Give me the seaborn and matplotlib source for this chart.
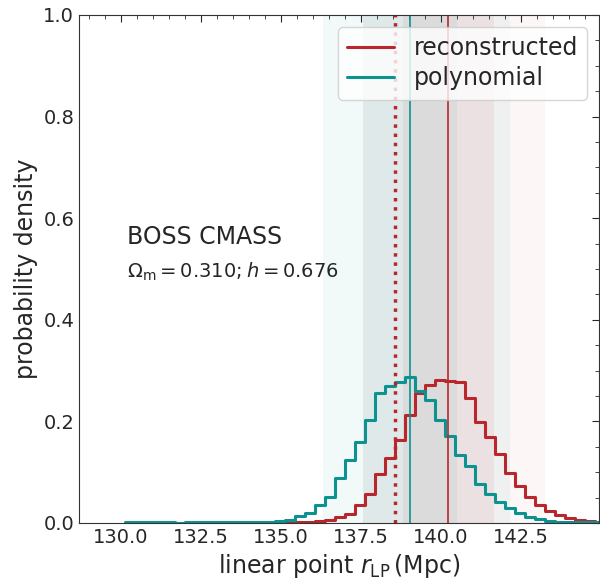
import numpy as np
import pandas as pd
import seaborn as sns
import matplotlib.pyplot as plt
from matplotlib.ticker import MultipleLocator

# histogram bins (Mpc)
bin_start = 130.15
bin_width = 0.3125

# probability density per bin
reconstructed = [
    0.0, 0.0, 0.0, 0.0, 0.0, 0.0, 0.0, 0.0,
    0.0, 0.0, 0.0, 0.0, 0.0, 0.0, 0.0, 0.0,
    0.001, 0.002, 0.002, 0.003, 0.005, 0.012, 0.018, 0.035,
    0.058, 0.097, 0.127, 0.163, 0.212, 0.255, 0.272, 0.281,
    0.279, 0.277, 0.247, 0.198, 0.170, 0.135, 0.099, 0.073,
    0.051, 0.035, 0.023, 0.016, 0.010, 0.005, 0.004, 0.002,
]
polynomial = [
    0.002, 0.002, 0.002, 0.001, 0.002, 0.0, 0.001, 0.001,
    0.001, 0.002, 0.001, 0.002, 0.002, 0.002, 0.002, 0.003,
    0.006, 0.013, 0.020, 0.036, 0.052, 0.088, 0.124, 0.160,
    0.203, 0.255, 0.270, 0.278, 0.287, 0.260, 0.242, 0.203,
    0.171, 0.134, 0.112, 0.077, 0.058, 0.042, 0.029, 0.019,
    0.012, 0.007, 0.003, 0.002, 0.001, 0.001, 0.001, 0.001,
]

# summary values
rec_best = 140.23
poly_best = 139.03
fiducial = 138.58
rec_1sig = (138.83, 141.67)
rec_2sig = (137.59, 143.27)
poly_1sig = (137.59, 140.51)
poly_2sig = (136.31, 142.17)

red = "#b9262c"
teal = "#0c9290"

sns.set_style("white")
plt.rcParams["font.family"] = ["DejaVu Sans"]

nbins = len(polynomial)
centers = bin_start + bin_width * (np.arange(nbins) + 0.5)
df = pd.DataFrame({"r": centers, "reconstructed": reconstructed, "polynomial": polynomial})
brange = (bin_start, bin_start + bin_width * nbins)

fig = plt.figure(figsize=(6, 5.81), dpi=100)
ax = fig.add_axes([79 / 600, 58 / 581, 520 / 600, 508 / 581])

# confidence bands
ax.axvspan(*poly_2sig, color=teal, alpha=0.05, lw=0)
ax.axvspan(*poly_1sig, color=teal, alpha=0.07, lw=0)
ax.axvspan(*rec_2sig, color=red, alpha=0.04, lw=0)
ax.axvspan(*rec_1sig, color=red, alpha=0.07, lw=0)

sns.histplot(data=df, x="r", weights="reconstructed", binwidth=bin_width, binrange=brange,
             element="step", fill=False, color=red, linewidth=2.2, label="reconstructed", ax=ax)
sns.histplot(data=df, x="r", weights="polynomial", binwidth=bin_width, binrange=brange,
             element="step", fill=False, color=teal, linewidth=2.2, label="polynomial", ax=ax)

ax.axvline(rec_best, color=red, lw=1.2)
ax.axvline(poly_best, color=teal, lw=1.2)
ax.axvline(fiducial, color=red, lw=2.5, ls=":")

ax.set_xlim(128.7, 144.95)
ax.set_ylim(0, 1.0)
ax.xaxis.set_major_locator(MultipleLocator(2.5))
ax.xaxis.set_minor_locator(MultipleLocator(0.5))
ax.yaxis.set_major_locator(MultipleLocator(0.2))
ax.yaxis.set_minor_locator(MultipleLocator(0.05))
ax.tick_params(which="both", direction="in", top=True, right=True, labelsize=14)
ax.tick_params(which="major", length=5)
ax.tick_params(which="minor", length=3)
for s in ax.spines.values():
    s.set_color("#333333")

ax.set_xlabel(r"linear point $r_{\rm LP}\,(\rm Mpc)$", fontsize=17)
ax.set_ylabel("probability density", fontsize=17)

ax.text(130.2, 0.563, "BOSS CMASS", fontsize=17, va="center")
ax.text(130.2, 0.494, r"$\Omega_{\rm m} = 0.310; h = 0.676$", fontsize=14, va="center")

ax.legend(loc="upper right", fontsize=17, handlelength=2.0, labelspacing=0.25)

fig.savefig("out.png", dpi=100)
